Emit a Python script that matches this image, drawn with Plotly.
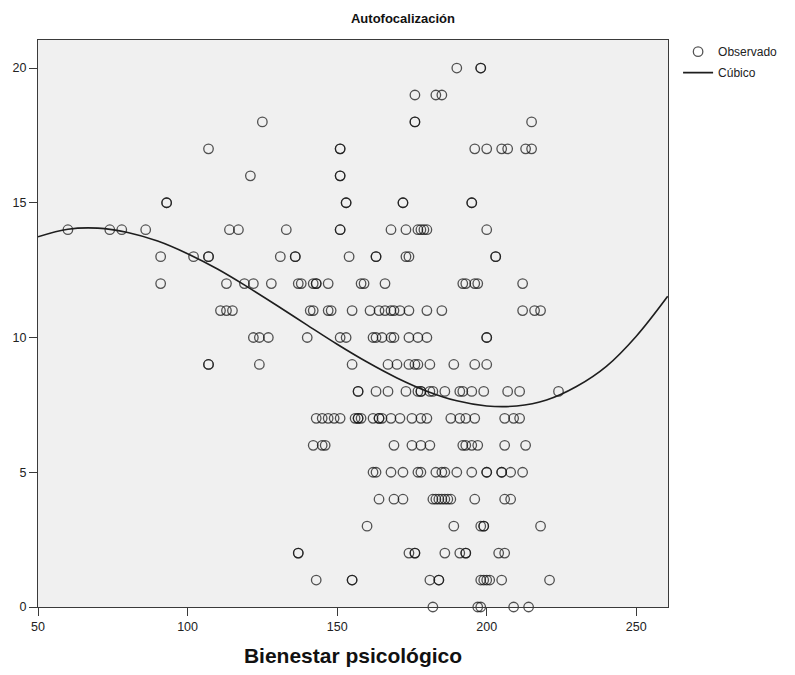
import plotly.graph_objects as go

# ---- observed data (Bienestar psicológico, Autofocalización), grouped by y value ----
row_values = [20, 19, 18, 17, 16, 15, 14, 13, 12, 11, 10, 9, 8, 7, 6, 5, 4, 3, 2, 1, 0]
row_x = [
    [190, 198, 198],
    [176, 183, 185],
    [125, 176, 176, 215],
    [107, 151, 151, 196, 200, 205, 207, 213, 215],
    [121, 151, 151],
    [93, 93, 153, 153, 172, 172, 195, 195],
    [60, 74, 78, 86, 114, 117, 133, 151, 151, 168, 173, 177, 178, 179, 180, 200],
    [91, 102, 107, 107, 131, 136, 136, 154, 163, 163, 173, 174, 203, 203],
    [91, 113, 119, 122, 128, 137, 138, 142, 143, 143, 147, 158, 159, 166, 192, 193, 196, 197, 212],
    [111, 113, 115, 141, 142, 147, 148, 155, 161, 164, 166, 168, 169, 171, 174, 180, 185, 212, 216, 218],
    [122, 124, 127, 140, 151, 153, 162, 163, 165, 168, 169, 174, 177, 180, 200, 200],
    [107, 107, 124, 155, 167, 170, 174, 176, 177, 181, 189, 196, 200],
    [157, 157, 163, 167, 173, 177, 178, 178, 181, 182, 186, 191, 192, 195, 199, 207, 211, 224],
    [143, 145, 147, 149, 151, 156, 157, 157, 158, 162, 164, 164, 165, 168, 171, 175, 178, 180,
     188, 191, 193, 196, 206, 209, 211],
    [142, 145, 146, 169, 175, 178, 181, 192, 193, 195, 197, 206, 213],
    [162, 163, 168, 172, 177, 178, 183, 185, 186, 190, 195, 200, 200, 205, 205, 208, 212],
    [164, 169, 172, 182, 183, 184, 185, 186, 187, 188, 196, 206, 208],
    [160, 189, 198, 199, 199, 218],
    [137, 137, 174, 176, 176, 186, 191, 193, 193, 204, 206],
    [143, 155, 155, 181, 184, 184, 198, 199, 200, 201, 205, 221],
    [182, 197, 198, 209, 214],
]

# ---- cubic fit curve ----
curve_x = [50, 60, 70, 80, 90, 100, 110, 120, 130, 140, 150, 160, 170, 180, 190, 200, 210, 220, 230, 240, 250, 260.5]
curve_y = [13.74, 14.02, 14.06, 13.90, 13.58, 13.11, 12.54, 11.88, 11.18, 10.46, 9.75, 9.09, 8.50,
           8.01, 7.65, 7.46, 7.46, 7.68, 8.18, 8.93, 10.05, 11.53]

x_ticks = [50, 100, 150, 200, 250]
y_ticks = [0, 5, 10, 15, 20]

obs_x, obs_y = [], []
for v, xs in zip(row_values, row_x):
    obs_x.extend(xs)
    obs_y.extend([v] * len(xs))

FONT = "Liberation Sans, Arial"
# the page body keeps the browser's default 8px margin, so the figure is
# sized to fill the 795x675 window exactly.
W, H = 779, 659

fig = go.Figure()
fig.add_trace(go.Scatter(
    x=obs_x, y=obs_y, mode="markers", name="Observado", legendgroup="obs",
    marker=dict(symbol="circle-open", size=9.5, color="rgba(20,20,20,0.72)",
                line=dict(width=1.3, color="rgba(20,20,20,0.72)")),
    cliponaxis=False,
))
fig.add_trace(go.Scatter(
    x=curve_x, y=curve_y, mode="lines", name="Cúbico", legendgroup="fit",
    line=dict(color="#1e1e1e", width=1.6, shape="spline"),
))

axis_common = dict(
    showgrid=False, zeroline=False, showline=True, mirror=True, automargin=False,
    linecolor="#3a3a3a", linewidth=1, ticks="outside", ticklen=8,
    tickcolor="#3a3a3a", tickfont=dict(family=FONT, size=12.5, color="#222"),
)

fig.update_layout(
    width=W, height=H,
    margin=dict(l=30, r=119, t=32, b=60, autoexpand=False),
    paper_bgcolor="white", plot_bgcolor="#f0f0f0",
    title=dict(text="Autofocalización", x=395 / W, xref="container", y=1 - 10 / H, yref="container",
               xanchor="center", yanchor="middle", automargin=False,
               font=dict(family=FONT, size=13, color="#111", weight="bold")),
    xaxis=dict(range=[50, 260.6], tickvals=x_ticks,
               title=dict(text="Bienestar psicológico", standoff=19,
                          font=dict(family=FONT, size=21, color="#111", weight="bold")),
               **axis_common),
    yaxis=dict(range=[0, 21.04], tickvals=y_ticks, **axis_common),
    legend=dict(x=1.016, y=1.005, xanchor="left", yanchor="top", bgcolor="rgba(0,0,0,0)",
                font=dict(family=FONT, size=12, color="#222"),
                itemwidth=30, tracegroupgap=2, traceorder="grouped"),
    showlegend=True,
)

fig.write_html("out.html")
